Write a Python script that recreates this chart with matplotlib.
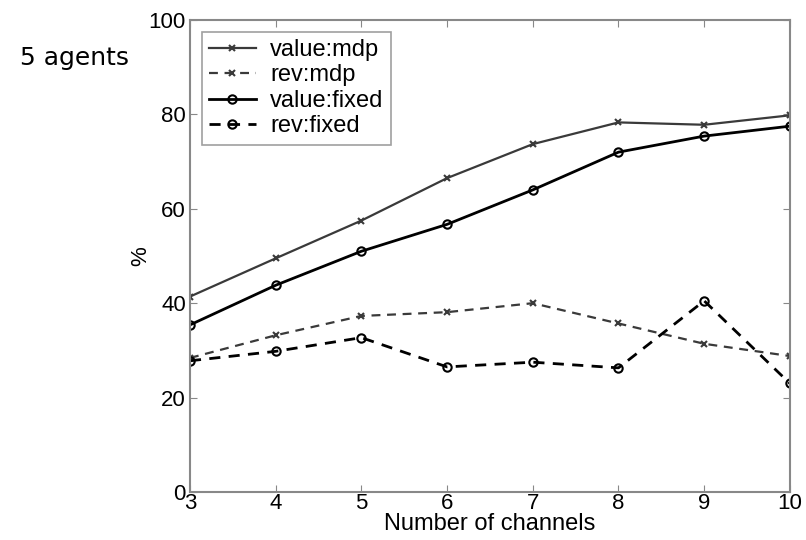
import matplotlib
matplotlib.use("Agg")
import matplotlib.pyplot as plt

channels = [3, 4, 5, 6, 7, 8, 9, 10]
value_mdp = [41.4, 49.5, 57.5, 66.5, 73.7, 78.3, 77.8, 79.8]
rev_mdp = [28.4, 33.2, 37.3, 38.1, 40.0, 35.7, 31.4, 28.8]
value_fixed = [35.4, 43.8, 51.0, 56.7, 64.0, 72.0, 75.4, 77.5]
rev_fixed = [27.8, 29.8, 32.7, 26.5, 27.5, 26.3, 40.5, 23.0]

plt.rcParams["font.family"] = ["Liberation Sans", "DejaVu Sans"]

fig = plt.figure(figsize=(8.06, 5.4), dpi=100)
ax = fig.add_axes([0.2357, 0.0889, 0.7443, 0.8741])

ax.plot(channels, value_mdp, "-", color="#3a3a3a", lw=1.6, marker="x", ms=5, mew=1.5,
        label="value:mdp")
ax.plot(channels, rev_mdp, "--", color="#3a3a3a", lw=1.6, marker="x", ms=5, mew=1.5,
        dashes=(4, 3), label="rev:mdp")
ax.plot(channels, value_fixed, "-", color="black", lw=2.0, marker="o", ms=6, mew=1.5,
        mfc="none", label="value:fixed")
ax.plot(channels, rev_fixed, "--", color="black", lw=2.0, marker="o", ms=6, mew=1.5,
        mfc="none", dashes=(4, 3), label="rev:fixed")

ax.set_xlim(3, 10)
ax.set_ylim(0, 100)
ax.set_xticks(channels)
ax.set_yticks([0, 20, 40, 60, 80, 100])
ax.tick_params(axis="both", direction="in", top=True, right=True, length=5,
               color="#888888", labelsize=16)
ax.tick_params(axis="x", pad=1)
ax.tick_params(axis="y", pad=3)
for sp in ax.spines.values():
    sp.set_color("#888888")
    sp.set_linewidth(1.5)

ax.set_xlabel("Number of channels", fontsize=17, labelpad=-1)
ax.set_ylabel("%", fontsize=16, labelpad=-2)

leg = ax.legend(loc="upper left", fontsize=17, frameon=True, fancybox=False,
                handlelength=2.0, borderpad=0.3, labelspacing=0.15,
                borderaxespad=0.5, handletextpad=0.6)
leg.get_frame().set_edgecolor("#888888")
leg.get_frame().set_linewidth(1.2)

fig.text(0.025, 0.893, "5 agents", fontsize=18, family="DejaVu Sans", va="center")

fig.savefig("out.png", dpi=100)
